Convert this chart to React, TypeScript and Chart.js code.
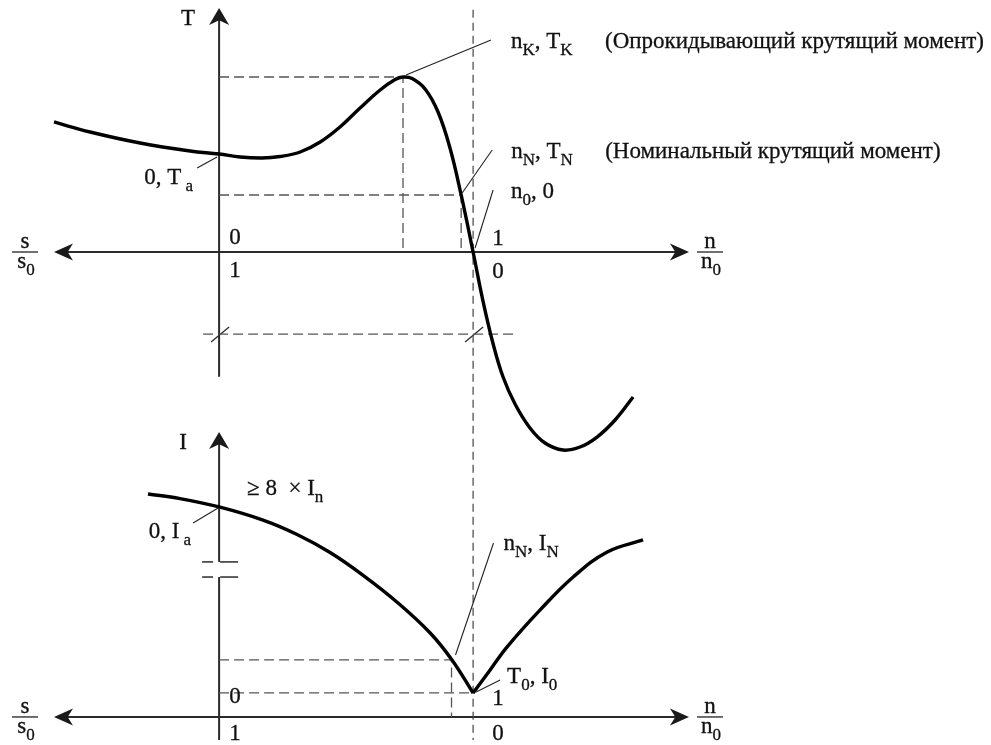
import React, { useEffect, useRef } from "react";
import { Chart, registerables } from "chart.js";

Chart.register(...registerables);

// ---------- data (n/n0 on x; torque in units of T_N; current in units of I_0) ----------
const TORQUE_N = [-0.65, -0.508, -0.311, -0.114, 0, 0.083, 0.169, 0.24, 0.319, 0.398, 0.476, 0.555, 0.634, 0.693, 0.724, 0.76, 0.811, 0.862, 0.909, 0.953, 1.0, 1.039, 1.079, 1.118, 1.165, 1.224, 1.283, 1.354, 1.421, 1.488, 1.559, 1.63];
const TORQUE_T = [2.281, 2.105, 1.912, 1.772, 1.719, 1.667, 1.649, 1.675, 1.754, 1.93, 2.193, 2.526, 2.842, 3.026, 3.07, 3.044, 2.86, 2.456, 1.825, 1.0, 0, -0.86, -1.614, -2.193, -2.667, -3.088, -3.351, -3.474, -3.421, -3.246, -2.947, -2.544];

const CURRENT_LEFT_N = [-0.28, -0.154, 0, 0.173, 0.307, 0.437, 0.567, 0.701, 0.831, 0.917, 1.0];
const CURRENT_LEFT_I = [9.29, 9.1, 8.75, 8.2, 7.6, 6.85, 5.9, 4.78, 3.5, 2.375, 1.0];
const CURRENT_RIGHT_N = [1.0, 1.067, 1.134, 1.264, 1.394, 1.528, 1.669];
const CURRENT_RIGHT_I = [1.0, 1.96, 2.92, 4.46, 5.83, 6.875, 7.375];

// characteristic points
const N_K = 0.724;
const T_K = 3.07;
const N_N = 0.953;
const T_N = 1.0;
const T_A = 1.719;
const N_N_I = 0.915;
const I_N = 2.375;
const I_0 = 1.0;
const I_A = 8.75;
const T_MARK = -1.44;
const MARK_LINE_N = [-0.063, 1.165];
const SYNC_LINE_T = [4.25, -8.56];

// axis extents
const N_AXIS = [-0.65, 1.85];
const T_AXIS = [-2.19, 4.28];
const I_AXIS = [-0.96, 11.875];
const I_BREAK = [5.83, 6.46];

// tick labels
const LEFT_TICKS = ["0", "1"];
const RIGHT_TICKS = ["1", "0"];

const FONT = '"Liberation Serif", "DejaVu Serif", "Times New Roman", serif';
const FS = 23;

type Part = [string, boolean];

function drawRich(ctx: CanvasRenderingContext2D, x: number, y: number, parts: Part[], size = FS, align: "left" | "right" | "center" = "left") {
  const sub = Math.round(size * 0.74);
  ctx.textBaseline = "alphabetic";
  ctx.textAlign = "left";
  let w = 0;
  for (const [t, s] of parts) {
    ctx.font = `${s ? sub : size}px ${FONT}`;
    w += ctx.measureText(t).width;
  }
  let cx = align === "right" ? x - w : align === "center" ? x - w / 2 : x;
  ctx.save();
  ctx.lineWidth = 0.3;
  ctx.strokeStyle = ctx.fillStyle as string;
  for (const [t, s] of parts) {
    ctx.font = `${s ? sub : size}px ${FONT}`;
    const yy = s ? y + size * 0.3 : y;
    ctx.fillText(t, cx, yy);
    ctx.strokeText(t, cx, yy);
    cx += ctx.measureText(t).width;
  }
  ctx.restore();
}

function arrowHead(ctx: CanvasRenderingContext2D, tx: number, ty: number, dx: number, dy: number, len = 18, half = 9) {
  const bx = tx - dx * len;
  const by = ty - dy * len;
  const nx = -dy;
  const ny = dx;
  const mx = tx - dx * len * 0.72;
  const my = ty - dy * len * 0.72;
  ctx.beginPath();
  ctx.moveTo(tx, ty);
  ctx.lineTo(bx + nx * half, by + ny * half);
  ctx.lineTo(mx, my);
  ctx.lineTo(bx - nx * half, by - ny * half);
  ctx.closePath();
  ctx.fill();
}

function line(ctx: CanvasRenderingContext2D, x1: number, y1: number, x2: number, y2: number) {
  ctx.beginPath();
  ctx.moveTo(x1, y1);
  ctx.lineTo(x2, y2);
  ctx.stroke();
}

function fraction(ctx: CanvasRenderingContext2D, cx: number, barY: number, num: string, den: string) {
  ctx.save();
  ctx.fillStyle = "#111";
  ctx.strokeStyle = "#222";
  ctx.lineWidth = 1.3;
  line(ctx, cx - 13, barY, cx + 13, barY);
  drawRich(ctx, cx, barY - 4, [[num, false]], FS, "center");
  drawRich(ctx, cx + 1, barY + 16, [[den, false], ["0", true]], FS, "center");
  ctx.restore();
}

const diagramPlugin = {
  id: "diagram",
  beforeDatasetsDraw(chart: any) {
    const ctx: CanvasRenderingContext2D = chart.ctx;
    const x = chart.scales.x;
    const yT = chart.scales.yT;
    const yI = chart.scales.yI;
    const px = (v: number) => x.getPixelForValue(v);
    const pT = (v: number) => yT.getPixelForValue(v);
    const pI = (v: number) => yI.getPixelForValue(v);
    ctx.save();
    ctx.strokeStyle = "#2a2a2a";
    ctx.fillStyle = "#1a1a1a";
    ctx.lineWidth = 2;
    // top axes
    const x0 = px(0);
    const xl = px(N_AXIS[0]);
    const xr = px(N_AXIS[1]);
    const yT0 = pT(0);
    line(ctx, xl + 10, yT0, xr - 10, yT0);
    arrowHead(ctx, xl, yT0, -1, 0, 19, 8.5);
    arrowHead(ctx, xr, yT0, 1, 0, 19, 8.5);
    line(ctx, x0, pT(T_AXIS[0]), x0, pT(T_AXIS[1]) + 10);
    arrowHead(ctx, x0, pT(T_AXIS[1]), 0, -1, 17, 10);
    // bottom axes
    const yI0 = pI(0);
    line(ctx, xl + 10, yI0, xr - 10, yI0);
    arrowHead(ctx, xl, yI0, -1, 0, 19, 8.5);
    arrowHead(ctx, xr, yI0, 1, 0, 19, 8.5);
    line(ctx, x0, pI(I_AXIS[0]), x0, pI(I_BREAK[0]));
    line(ctx, x0, pI(I_BREAK[1]), x0, pI(I_AXIS[1]) + 10);
    arrowHead(ctx, x0, pI(I_AXIS[1]), 0, -1, 17, 10);
    // axis break marks
    ctx.lineWidth = 1.5;
    for (const b of I_BREAK) {
      const yb = pI(b);
      line(ctx, x0 - 17, yb, x0 - 6, yb);
      line(ctx, x0 + 1, yb, x0 + 19, yb);
    }
    // slash marks on dashed line
    ctx.lineWidth = 1.3;
    const ym = pT(T_MARK);
    for (const n of [0, 1]) {
      const xs = px(n);
      line(ctx, xs - 8, ym + 8, xs + 10, ym - 7);
    }
    ctx.restore();
  },
  afterDatasetsDraw(chart: any) {
    const ctx: CanvasRenderingContext2D = chart.ctx;
    const x = chart.scales.x;
    const yT = chart.scales.yT;
    const yI = chart.scales.yI;
    const px = (v: number) => x.getPixelForValue(v);
    const pT = (v: number) => yT.getPixelForValue(v);
    const pI = (v: number) => yI.getPixelForValue(v);
    ctx.save();
    ctx.fillStyle = "#111";
    ctx.strokeStyle = "#222";
    ctx.lineWidth = 1.1;

    const x0 = px(0);
    const x1 = px(1);
    const yT0 = pT(0);
    const yI0 = pI(0);

    // axis titles
    drawRich(ctx, x0 - 31, pT(T_AXIS[1]) + 17, [["T", false]], FS, "center");
    drawRich(ctx, x0 - 36, pI(I_AXIS[1]) + 17, [["I", false]], FS, "center");

    // tick labels
    drawRich(ctx, x0 + 16, yT0 - 8, [[LEFT_TICKS[0], false]], FS, "center");
    drawRich(ctx, x0 + 16, yT0 + 25, [[LEFT_TICKS[1], false]], FS, "center");
    drawRich(ctx, x1 + 25, yT0 - 7, [[RIGHT_TICKS[0], false]], FS, "center");
    drawRich(ctx, x1 + 25, yT0 + 26, [[RIGHT_TICKS[1], false]], FS, "center");
    drawRich(ctx, x0 + 16, yI0 - 14, [[LEFT_TICKS[0], false]], FS, "center");
    drawRich(ctx, x0 + 16, yI0 + 23, [[LEFT_TICKS[1], false]], FS, "center");
    drawRich(ctx, x1 + 25, yI0 - 12, [[RIGHT_TICKS[0], false]], FS, "center");
    drawRich(ctx, x1 + 25, yI0 + 23, [[RIGHT_TICKS[1], false]], FS, "center");

    // axis fractions
    fraction(ctx, 25, yT0, "s", "s");
    fraction(ctx, 710, yT0, "n", "n");
    fraction(ctx, 25, yI0, "s", "s");
    fraction(ctx, 710, yI0, "n", "n");

    // leaders + labels (top)
    const kx = px(N_K), ky = pT(T_K);
    line(ctx, kx + 3, ky - 2, kx + 88, ky - 37);
    drawRich(ctx, kx + 108, ky - 29, [["n", false], ["K", true], [", T", false], ["K", true]]);
    drawRich(ctx, kx + 202, ky - 29, [["(Опрокидывающий крутящий момент)", false]]);

    const nx = px(N_N), ny = pT(T_N);
    line(ctx, nx + 1, ny - 2, nx + 31, ny - 45);
    drawRich(ctx, nx + 50, ny - 37, [["n", false], ["N", true], [", T", false], ["N", true]]);
    drawRich(ctx, nx + 144, ny - 37, [["(Номинальный крутящий момент)", false]]);

    line(ctx, x1 + 2, yT0 - 4, x1 + 20, yT0 - 62);
    drawRich(ctx, x1 + 38, yT0 - 54, [["n", false], ["0", true], [", 0", false]]);

    const ay = pT(T_A);
    line(ctx, x0 - 22, ay + 14, x0 - 2, ay + 3);
    drawRich(ctx, x0 - 26, ay + 30, [["0, T", false], [" a", true]], FS, "right");

    // leaders + labels (bottom)
    drawRich(ctx, x0 + 28, pI(I_A) - 12, [["≥ 8  × I", false], ["n", true]]);
    const iay = pI(I_A);
    line(ctx, x0 - 26, iay + 16, x0 - 1, iay + 1);
    drawRich(ctx, x0 - 28, iay + 31, [["0, I", false], [" a", true]], FS, "right");

    const inx = px(N_N_I), iny = pI(I_N);
    line(ctx, inx + 4, iny - 5, inx + 42, iny - 117);
    drawRich(ctx, inx + 52, iny - 110, [["n", false], ["N", true], [", I", false], ["N", true]]);

    const i0y = pI(I_0);
    line(ctx, x1 + 3, i0y - 1, x1 + 27, i0y - 13);
    drawRich(ctx, x1 + 34, i0y - 10, [["T", false], ["0", true], [", I", false], ["0", true]]);

    ctx.restore();
  },
};

function pts(xs: number[], ys: number[]) {
  return xs.map((v, i) => ({ x: v, y: ys[i] }));
}

export default function App() {
  const ref = useRef<HTMLCanvasElement | null>(null);
  useEffect(() => {
    if (!ref.current) return;
    const curve = {
      showLine: true,
      pointRadius: 0,
      borderColor: "#000",
      borderWidth: 3.4,
      tension: 0.4,
      clip: false as const,
      order: 0,
    };
    const dashed = {
      showLine: true,
      pointRadius: 0,
      borderColor: "#555",
      borderWidth: 1.3,
      borderDash: [10, 5],
      tension: 0,
      clip: false as const,
      order: 2,
    };
    const chart = new Chart(ref.current, {
      type: "scatter",
      data: {
        datasets: [
          { ...curve, label: "T", yAxisID: "yT", data: pts(TORQUE_N, TORQUE_T) },
          { ...curve, label: "I left", yAxisID: "yI", data: pts(CURRENT_LEFT_N, CURRENT_LEFT_I) },
          { ...curve, label: "I right", yAxisID: "yI", data: pts(CURRENT_RIGHT_N, CURRENT_RIGHT_I) },
          { ...dashed, label: "TK", yAxisID: "yT", data: [{ x: 0, y: T_K }, { x: N_K, y: T_K }, { x: N_K, y: 0 }] },
          { ...dashed, label: "TN", yAxisID: "yT", data: [{ x: 0, y: T_N }, { x: N_N, y: T_N }, { x: N_N, y: 0 }] },
          { ...dashed, label: "mark", yAxisID: "yT", data: [{ x: MARK_LINE_N[0], y: T_MARK }, { x: MARK_LINE_N[1], y: T_MARK }] },
          { ...dashed, label: "n0", yAxisID: "yT", borderDash: [8, 5], borderColor: "#444", borderWidth: 1.2, data: [{ x: 1, y: SYNC_LINE_T[0] }, { x: 1, y: SYNC_LINE_T[1] }] },
          { ...dashed, label: "IN", yAxisID: "yI", data: [{ x: 0, y: I_N }, { x: N_N_I, y: I_N }, { x: N_N_I, y: 0 }] },
          { ...dashed, label: "I0", yAxisID: "yI", data: [{ x: 0, y: I_0 }, { x: 1, y: I_0 }] },
        ],
      },
      options: {
        animation: false,
        responsive: false,
        devicePixelRatio: 1,
        events: [],
        layout: { padding: { left: 54, right: 302, top: 8, bottom: 5 } },
        plugins: { legend: { display: false }, tooltip: { enabled: false } },
        scales: {
          x: { type: "linear", min: -0.65, max: 1.85, display: false },
          yT: { type: "linear", position: "left", min: -8.56, max: 4.28, display: false },
          yI: { type: "linear", position: "left", min: -0.96, max: 29.54, display: false },
        },
      },
      plugins: [diagramPlugin],
    });
    return () => chart.destroy();
  }, []);
  return (
    <div style={{ position: "fixed", left: 0, top: 0, width: 991, height: 745, background: "#fff" }}>
      <canvas ref={ref} width={991} height={745} style={{ display: "block" }} />
    </div>
  );
}
